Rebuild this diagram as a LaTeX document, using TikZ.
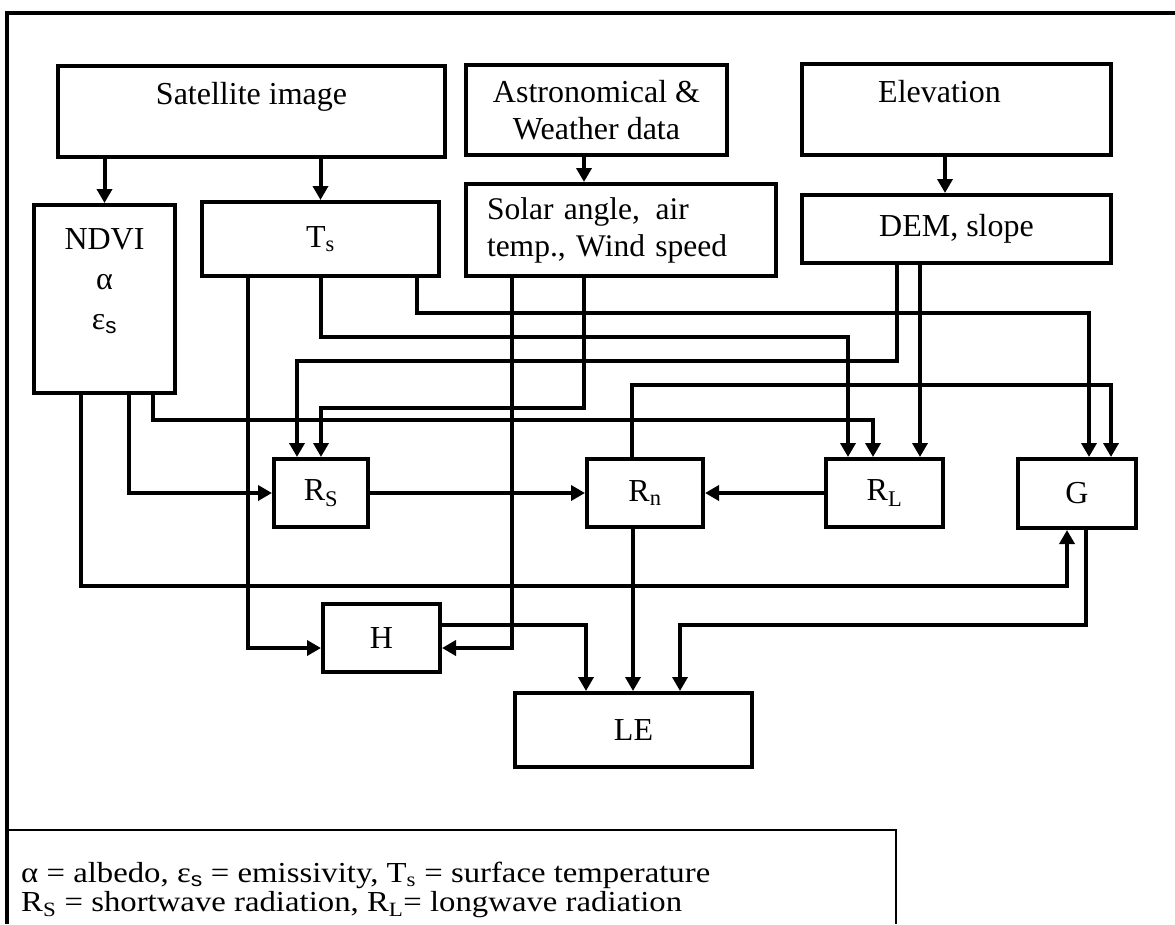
\documentclass[tikz,border=0pt]{standalone}
\usepackage{fontspec}
\setmainfont{Liberation Serif}
\newfontfamily\sansf{Liberation Sans}
\usetikzlibrary{arrows.meta,calc}

\begin{document}
\begin{tikzpicture}[x=1pt,y=-1pt,
  box/.style={draw, line width=4pt, inner sep=0pt, align=center, font=\fontsize{32}{37}\selectfont},
  conn/.style={line width=4pt, -{Triangle[width=15pt,length=14pt]}}]
\useasboundingbox (0,0) rectangle (1175,924);
% frame
\draw[line width=4pt] (1175,13) -- (7,13) -- (7,924);
% inputs
\node[box, minimum width=387, minimum height=91] (sat) at (251.5,111.5) {Satellite image\\\mbox{}};
\node[box, minimum width=261, minimum height=90] (astro) at (596.5,110) {Astronomical \&\\Weather data};
\node[box, minimum width=309, minimum height=91] (elev) at (956.5,109.5) {Elevation\hspace*{34pt}\\\mbox{}};
% derived
\node[box, minimum width=141, minimum height=188, font=\fontsize{32}{40}\selectfont] (ndvi) at (104.5,299) {NDVI\\α\\ε\textsubscript{\sansf s}\\\mbox{}};
\node[box, minimum width=237, minimum height=74] (ts) at (320.5,239) {T\textsubscript{s}};
\node[box, align=left, text width=268, inner xsep=21pt, minimum height=92, font=\fontsize{31.5}{37}\selectfont] (solar) at (621,230) {Solar angle,\hspace{5pt} air\\temp., Wind speed};
\node[box, minimum width=309, minimum height=68] (dem) at (956.5,229) {DEM, slope};
% fluxes
\node[box, minimum width=94, minimum height=68] (rs) at (321,493) {R\textsubscript{S}};
\node[box, minimum width=116, minimum height=68] (rn) at (645,493) {R\textsubscript{n}};
\node[box, minimum width=117, minimum height=68] (rl) at (884.5,493) {R\textsubscript{L}};
\node[box, minimum width=118, minimum height=69] (g) at (1077,493.5) {G};
\node[box, minimum width=117, minimum height=68] (h) at (381.5,638) {H};
\node[box, minimum width=237, minimum height=74] (le) at (633.5,730) {LE};
% arrows
\draw[conn] (ndvi.north |- sat.south) -- (ndvi.north);
\draw[conn] (ts.north |- sat.south) -- (ts.north);
\draw[conn] ([xshift=-12.5pt]astro.south) -- ([xshift=-12.5pt]astro.south |- solar.north);
\draw[conn] ([xshift=-11.5pt]elev.south) -- ([xshift=-11.5pt]elev.south |- dem.north);
\draw[conn] ([xshift=-72.5pt]ts.south) |- ([yshift=-10pt]h.west);
\draw[conn] (ts.south) -- ++(0,59) -| ([xshift=-36.5pt]rl.north);
\draw[conn] ([xshift=96.5pt]ts.south) -- ++(0,35) -| ([xshift=12pt]g.north);
\draw[conn] ([xshift=-109pt]solar.south) |- ([yshift=-10pt]h.east);
\draw[conn] ([xshift=-37pt]solar.south) -- ++(0,130) -| (rs.north);
\draw[conn] ([xshift=-59.5pt]dem.south) -- ++(0,96) -| ([xshift=-24pt]rs.north);
\draw[conn] ([xshift=-36.5pt]dem.south) -- ([xshift=-36.5pt]dem.south |- rl.north);
\draw[conn] ([xshift=48.5pt]ndvi.south) -- ++(0,25) -| ([xshift=-11.5pt]rl.north);
\draw[conn] ([xshift=24.5pt]ndvi.south) |- (rs.west);
\draw[conn] ([xshift=-23.5pt]ndvi.south) -- ++(0,191) -| ([xshift=-10pt]g.south);
\draw[conn] (rs.east) -- (rn.west);
\draw[conn] (rl.west) -- (rn.east);
\draw[conn] ([xshift=-13pt]rn.north) -- ++(0,-72) -| ([xshift=34pt]g.north);
\draw[conn] ([xshift=9pt]g.south) -- ++(0,95) -| ([xshift=46.5pt]le.north);
\draw[conn] ([xshift=-12pt]rn.south) -- ([xshift=-12pt]rn.south |- le.north);
\draw[conn] ([yshift=13pt]h.east) -| ([xshift=-47.5pt]le.north);
% legend
\draw[line width=2.5pt] (7,830) -- (896,830) -- (896,924);
\node[anchor=west, align=left, inner sep=0pt, xscale=1.13, transform shape, font=\fontsize{29}{29.5}\selectfont] (legend) at (21,890)
  {α = albedo, ε\textsubscript{\sansf s} = emissivity, T\textsubscript{s} = surface temperature\\
   R\textsubscript{S} = shortwave radiation, R\textsubscript{L}= longwave radiation};
\end{tikzpicture}
\end{document}
